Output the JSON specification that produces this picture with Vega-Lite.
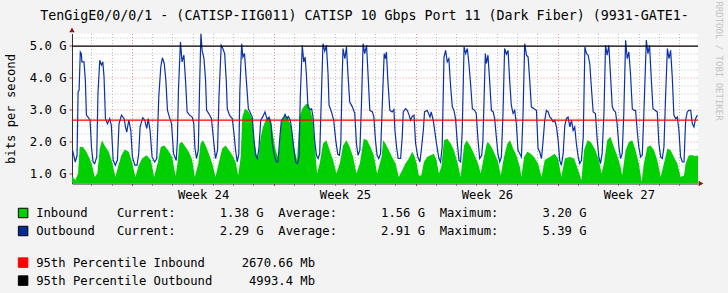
{
  "$schema": "https://vega.github.io/schema/vega-lite/v6.json",
  "width": 626,
  "height": 150,
  "autosize": {"type": "none"},
  "padding": {"left": 72, "top": 33.5, "right": 30, "bottom": 109.5},
  "background": "#F3F3F3",
  "config": {"view": {"fill": "#FFFFFF", "stroke": null}, "font": "DejaVu Sans Mono"},
  "datasets": {
    "inb": [
      {"d":-2.95,"v":0.90},{"d":-2.90,"v":0.89},{"d":-2.79,"v":0.79},{"d":-2.65,"v":1.00},{"d":-2.57,"v":1.83},{"d":-2.41,"v":1.83},{"d":-2.24,"v":1.68},{"d":-2.08,"v":1.47},{"d":-1.96,"v":1.26},{"d":-1.83,"v":0.89},{"d":-1.70,"v":1.00},{"d":-1.58,"v":1.78},{"d":-1.47,"v":2.04},{"d":-1.34,"v":1.88},{"d":-1.14,"v":1.68},{"d":-0.97,"v":1.36},{"d":-0.81,"v":0.89},{"d":-0.68,"v":1.21},{"d":-0.51,"v":1.57},{"d":-0.35,"v":1.75},{"d":-0.15,"v":1.68},{"d":0.01,"v":1.36},{"d":0.18,"v":0.89},{"d":0.34,"v":1.26},{"d":0.51,"v":1.47},{"d":0.72,"v":1.57},{"d":0.94,"v":1.42},{"d":1.10,"v":0.89},{"d":1.27,"v":1.31},{"d":1.43,"v":1.83},{"d":1.60,"v":1.88},{"d":1.79,"v":1.73},{"d":1.99,"v":1.52},{"d":2.16,"v":0.92},{"d":2.25,"v":1.31},{"d":2.35,"v":1.94},{"d":2.48,"v":1.99},{"d":2.65,"v":1.83},{"d":2.81,"v":1.68},{"d":2.98,"v":1.42},{"d":3.11,"v":0.89},{"d":3.28,"v":1.31},{"d":3.39,"v":1.94},{"d":3.51,"v":2.04},{"d":3.64,"v":1.88},{"d":3.80,"v":1.62},{"d":3.97,"v":1.31},{"d":4.13,"v":0.89},{"d":4.30,"v":1.36},{"d":4.46,"v":1.78},{"d":4.63,"v":1.88},{"d":4.79,"v":1.73},{"d":4.96,"v":1.57},{"d":5.12,"v":1.36},{"d":5.25,"v":0.94},{"d":5.37,"v":1.52},{"d":5.45,"v":2.77},{"d":5.58,"v":3.03},{"d":5.70,"v":2.98},{"d":5.81,"v":2.88},{"d":5.94,"v":2.72},{"d":6.03,"v":2.04},{"d":6.14,"v":1.62},{"d":6.24,"v":1.52},{"d":6.36,"v":2.15},{"d":6.47,"v":2.46},{"d":6.60,"v":2.67},{"d":6.73,"v":2.77},{"d":6.87,"v":2.69},{"d":6.98,"v":2.15},{"d":7.10,"v":1.73},{"d":7.23,"v":1.47},{"d":7.38,"v":2.67},{"d":7.54,"v":2.83},{"d":7.71,"v":2.75},{"d":7.87,"v":2.46},{"d":8.03,"v":1.73},{"d":8.15,"v":1.42},{"d":8.28,"v":2.77},{"d":8.41,"v":3.03},{"d":8.58,"v":3.17},{"d":8.71,"v":3.19},{"d":8.81,"v":2.98},{"d":8.91,"v":2.75},{"d":9.02,"v":1.94},{"d":9.14,"v":1.00},{"d":9.27,"v":1.31},{"d":9.43,"v":1.94},{"d":9.60,"v":2.04},{"d":9.76,"v":1.73},{"d":9.93,"v":1.42},{"d":10.09,"v":1.00},{"d":10.26,"v":1.31},{"d":10.42,"v":1.88},{"d":10.59,"v":2.04},{"d":10.75,"v":1.83},{"d":10.92,"v":1.52},{"d":11.08,"v":1.00},{"d":11.25,"v":1.31},{"d":11.44,"v":2.09},{"d":11.61,"v":2.04},{"d":11.77,"v":1.83},{"d":11.94,"v":1.57},{"d":12.10,"v":1.00},{"d":12.32,"v":1.52},{"d":12.40,"v":2.04},{"d":12.51,"v":1.94},{"d":12.68,"v":1.73},{"d":12.84,"v":1.52},{"d":13.01,"v":1.31},{"d":13.17,"v":0.89},{"d":13.34,"v":1.10},{"d":13.50,"v":1.31},{"d":13.67,"v":1.47},{"d":13.83,"v":1.68},{"d":13.95,"v":1.54},{"d":14.05,"v":1.31},{"d":14.16,"v":0.94},{"d":14.28,"v":0.94},{"d":14.41,"v":1.36},{"d":14.57,"v":1.52},{"d":14.74,"v":1.57},{"d":14.90,"v":1.62},{"d":15.03,"v":1.42},{"d":15.15,"v":1.00},{"d":15.27,"v":1.21},{"d":15.40,"v":2.04},{"d":15.56,"v":2.09},{"d":15.73,"v":1.94},{"d":15.89,"v":1.73},{"d":16.06,"v":1.36},{"d":16.22,"v":0.89},{"d":16.39,"v":1.88},{"d":16.52,"v":2.04},{"d":16.68,"v":1.88},{"d":16.88,"v":1.62},{"d":17.08,"v":1.31},{"d":17.21,"v":1.00},{"d":17.37,"v":1.52},{"d":17.51,"v":1.94},{"d":17.57,"v":1.99},{"d":17.74,"v":1.83},{"d":17.90,"v":1.62},{"d":18.07,"v":1.36},{"d":18.20,"v":0.94},{"d":18.36,"v":1.52},{"d":18.53,"v":1.94},{"d":18.66,"v":2.04},{"d":18.81,"v":1.78},{"d":18.97,"v":1.57},{"d":19.14,"v":1.21},{"d":19.22,"v":0.89},{"d":19.35,"v":1.52},{"d":19.51,"v":1.68},{"d":19.68,"v":1.62},{"d":19.84,"v":1.52},{"d":20.04,"v":1.31},{"d":20.21,"v":0.89},{"d":20.37,"v":1.42},{"d":20.62,"v":1.52},{"d":20.86,"v":1.62},{"d":21.03,"v":1.47},{"d":21.19,"v":0.89},{"d":21.36,"v":1.47},{"d":21.61,"v":1.52},{"d":21.82,"v":1.47},{"d":22.02,"v":1.10},{"d":22.18,"v":0.79},{"d":22.31,"v":1.73},{"d":22.48,"v":2.04},{"d":22.64,"v":1.99},{"d":22.87,"v":1.73},{"d":23.04,"v":1.42},{"d":23.17,"v":1.00},{"d":23.29,"v":1.31},{"d":23.45,"v":2.04},{"d":23.61,"v":2.15},{"d":23.78,"v":1.83},{"d":23.94,"v":1.57},{"d":24.11,"v":1.21},{"d":24.19,"v":0.94},{"d":24.36,"v":1.73},{"d":24.52,"v":1.99},{"d":24.69,"v":2.04},{"d":24.85,"v":1.73},{"d":25.01,"v":1.31},{"d":25.15,"v":0.74},{"d":25.26,"v":1.31},{"d":25.43,"v":1.83},{"d":25.59,"v":1.88},{"d":25.76,"v":1.73},{"d":25.92,"v":1.42},{"d":26.09,"v":0.89},{"d":26.25,"v":1.31},{"d":26.42,"v":1.78},{"d":26.58,"v":1.73},{"d":26.74,"v":1.52},{"d":26.91,"v":1.31},{"d":27.07,"v":0.89},{"d":27.24,"v":0.94},{"d":27.32,"v":1.31},{"d":27.48,"v":1.57},{"d":27.65,"v":1.57},{"d":27.81,"v":1.54},{"d":27.93,"v":1.57}
    ],
    "outb": [
      {"d":-2.95,"v":1.65},{"d":-2.90,"v":1.68},{"d":-2.79,"v":1.36},{"d":-2.70,"v":1.57},{"d":-2.65,"v":3.56},{"d":-2.60,"v":3.61},{"d":-2.54,"v":4.81},{"d":-2.49,"v":4.76},{"d":-2.46,"v":4.50},{"d":-2.36,"v":4.50},{"d":-2.29,"v":3.92},{"d":-2.24,"v":2.83},{"d":-2.16,"v":2.77},{"d":-2.06,"v":2.67},{"d":-1.99,"v":1.83},{"d":-1.91,"v":1.36},{"d":-1.83,"v":1.31},{"d":-1.73,"v":1.52},{"d":-1.67,"v":3.50},{"d":-1.58,"v":4.55},{"d":-1.50,"v":4.40},{"d":-1.43,"v":4.50},{"d":-1.37,"v":4.03},{"d":-1.30,"v":2.72},{"d":-1.20,"v":2.56},{"d":-1.09,"v":2.72},{"d":-1.01,"v":2.51},{"d":-0.92,"v":1.42},{"d":-0.81,"v":1.26},{"d":-0.71,"v":1.42},{"d":-0.63,"v":2.56},{"d":-0.51,"v":2.83},{"d":-0.38,"v":2.72},{"d":-0.31,"v":2.46},{"d":-0.25,"v":2.30},{"d":-0.15,"v":2.67},{"d":-0.05,"v":2.35},{"d":0.03,"v":1.52},{"d":0.15,"v":1.26},{"d":0.26,"v":1.26},{"d":0.34,"v":1.62},{"d":0.41,"v":2.46},{"d":0.54,"v":2.75},{"d":0.64,"v":2.67},{"d":0.74,"v":2.41},{"d":0.81,"v":2.72},{"d":0.90,"v":2.35},{"d":1.00,"v":1.52},{"d":1.13,"v":1.36},{"d":1.23,"v":1.47},{"d":1.33,"v":3.40},{"d":1.43,"v":4.34},{"d":1.51,"v":4.63},{"d":1.60,"v":4.45},{"d":1.68,"v":3.92},{"d":1.76,"v":2.98},{"d":1.88,"v":2.72},{"d":1.96,"v":2.56},{"d":2.06,"v":1.62},{"d":2.19,"v":1.41},{"d":2.25,"v":2.04},{"d":2.30,"v":3.61},{"d":2.40,"v":5.12},{"d":2.48,"v":4.50},{"d":2.57,"v":4.71},{"d":2.65,"v":3.92},{"d":2.73,"v":2.93},{"d":2.85,"v":2.83},{"d":2.98,"v":2.77},{"d":3.06,"v":2.56},{"d":3.11,"v":1.83},{"d":3.19,"v":1.47},{"d":3.28,"v":1.73},{"d":3.34,"v":3.61},{"d":3.41,"v":5.39},{"d":3.47,"v":4.86},{"d":3.56,"v":4.60},{"d":3.64,"v":3.92},{"d":3.69,"v":2.98},{"d":3.80,"v":2.88},{"d":3.93,"v":2.72},{"d":4.05,"v":1.94},{"d":4.13,"v":1.47},{"d":4.23,"v":1.73},{"d":4.30,"v":3.40},{"d":4.41,"v":5.02},{"d":4.49,"v":4.92},{"d":4.58,"v":4.76},{"d":4.66,"v":3.92},{"d":4.71,"v":3.03},{"d":4.82,"v":2.83},{"d":4.96,"v":2.72},{"d":5.04,"v":2.25},{"d":5.12,"v":1.73},{"d":5.20,"v":1.36},{"d":5.28,"v":1.62},{"d":5.33,"v":3.61},{"d":5.42,"v":5.07},{"d":5.48,"v":4.65},{"d":5.56,"v":4.76},{"d":5.65,"v":3.92},{"d":5.75,"v":3.03},{"d":5.86,"v":2.88},{"d":5.94,"v":2.77},{"d":6.03,"v":2.04},{"d":6.11,"v":1.57},{"d":6.19,"v":1.47},{"d":6.27,"v":1.78},{"d":6.36,"v":2.67},{"d":6.47,"v":2.79},{"d":6.57,"v":2.93},{"d":6.68,"v":2.69},{"d":6.77,"v":2.77},{"d":6.87,"v":2.51},{"d":6.93,"v":1.94},{"d":7.03,"v":1.57},{"d":7.13,"v":1.36},{"d":7.21,"v":1.36},{"d":7.29,"v":2.04},{"d":7.38,"v":2.67},{"d":7.49,"v":2.75},{"d":7.56,"v":2.86},{"d":7.66,"v":2.72},{"d":7.72,"v":2.79},{"d":7.82,"v":2.67},{"d":7.89,"v":2.35},{"d":7.99,"v":1.78},{"d":8.08,"v":1.36},{"d":8.17,"v":1.31},{"d":8.25,"v":1.52},{"d":8.31,"v":3.40},{"d":8.41,"v":5.02},{"d":8.48,"v":4.50},{"d":8.55,"v":4.65},{"d":8.61,"v":4.13},{"d":8.69,"v":3.09},{"d":8.81,"v":3.00},{"d":8.87,"v":3.03},{"d":8.94,"v":2.77},{"d":9.02,"v":2.04},{"d":9.11,"v":1.57},{"d":9.19,"v":1.47},{"d":9.27,"v":1.62},{"d":9.35,"v":3.40},{"d":9.43,"v":5.07},{"d":9.52,"v":4.84},{"d":9.60,"v":5.02},{"d":9.68,"v":4.13},{"d":9.73,"v":3.14},{"d":9.85,"v":2.93},{"d":9.96,"v":2.67},{"d":10.06,"v":2.04},{"d":10.16,"v":1.60},{"d":10.24,"v":1.57},{"d":10.31,"v":1.94},{"d":10.37,"v":3.92},{"d":10.42,"v":4.92},{"d":10.51,"v":4.60},{"d":10.59,"v":4.97},{"d":10.67,"v":4.03},{"d":10.75,"v":3.24},{"d":10.88,"v":3.09},{"d":11.00,"v":2.88},{"d":11.08,"v":1.94},{"d":11.16,"v":1.57},{"d":11.25,"v":1.73},{"d":11.33,"v":3.19},{"d":11.41,"v":5.07},{"d":11.49,"v":4.76},{"d":11.58,"v":5.02},{"d":11.66,"v":4.03},{"d":11.74,"v":2.98},{"d":11.87,"v":2.93},{"d":11.94,"v":2.77},{"d":12.02,"v":2.04},{"d":12.10,"v":1.57},{"d":12.18,"v":1.47},{"d":12.27,"v":1.62},{"d":12.37,"v":3.40},{"d":12.45,"v":4.76},{"d":12.51,"v":4.60},{"d":12.56,"v":4.81},{"d":12.63,"v":3.92},{"d":12.73,"v":2.98},{"d":12.84,"v":2.93},{"d":12.93,"v":3.00},{"d":12.98,"v":2.35},{"d":13.06,"v":1.83},{"d":13.14,"v":1.47},{"d":13.26,"v":1.47},{"d":13.34,"v":2.15},{"d":13.39,"v":2.93},{"d":13.50,"v":3.03},{"d":13.59,"v":2.98},{"d":13.68,"v":2.83},{"d":13.75,"v":2.67},{"d":13.83,"v":2.79},{"d":13.92,"v":2.83},{"d":14.00,"v":1.94},{"d":14.11,"v":1.52},{"d":14.21,"v":1.36},{"d":14.28,"v":1.73},{"d":14.38,"v":2.35},{"d":14.44,"v":2.93},{"d":14.57,"v":2.98},{"d":14.71,"v":2.77},{"d":14.77,"v":2.93},{"d":14.87,"v":2.67},{"d":14.94,"v":2.35},{"d":15.03,"v":1.94},{"d":15.15,"v":1.47},{"d":15.23,"v":1.36},{"d":15.31,"v":1.83},{"d":15.40,"v":4.65},{"d":15.48,"v":4.86},{"d":15.56,"v":4.50},{"d":15.64,"v":4.60},{"d":15.73,"v":3.71},{"d":15.81,"v":3.09},{"d":15.89,"v":2.98},{"d":15.97,"v":2.72},{"d":16.06,"v":1.94},{"d":16.14,"v":1.41},{"d":16.22,"v":1.36},{"d":16.30,"v":2.35},{"d":16.39,"v":4.97},{"d":16.47,"v":4.76},{"d":16.55,"v":4.92},{"d":16.63,"v":4.45},{"d":16.71,"v":3.82},{"d":16.80,"v":3.03},{"d":16.91,"v":2.98},{"d":16.99,"v":2.88},{"d":17.08,"v":2.04},{"d":17.16,"v":1.47},{"d":17.26,"v":1.57},{"d":17.32,"v":2.04},{"d":17.38,"v":3.40},{"d":17.44,"v":4.76},{"d":17.49,"v":4.45},{"d":17.57,"v":4.71},{"d":17.65,"v":3.92},{"d":17.74,"v":2.98},{"d":17.83,"v":2.93},{"d":17.90,"v":2.72},{"d":17.98,"v":2.15},{"d":18.06,"v":1.62},{"d":18.15,"v":1.36},{"d":18.23,"v":1.52},{"d":18.31,"v":2.88},{"d":18.39,"v":4.92},{"d":18.48,"v":4.74},{"d":18.56,"v":4.86},{"d":18.64,"v":3.92},{"d":18.72,"v":3.14},{"d":18.81,"v":2.88},{"d":18.89,"v":2.98},{"d":18.97,"v":2.56},{"d":19.05,"v":1.73},{"d":19.14,"v":1.62},{"d":19.22,"v":1.52},{"d":19.30,"v":2.88},{"d":19.38,"v":5.07},{"d":19.47,"v":4.71},{"d":19.55,"v":4.65},{"d":19.63,"v":3.92},{"d":19.71,"v":3.09},{"d":19.84,"v":3.03},{"d":19.96,"v":2.98},{"d":20.04,"v":1.78},{"d":20.12,"v":1.68},{"d":20.21,"v":1.47},{"d":20.29,"v":2.04},{"d":20.37,"v":2.67},{"d":20.45,"v":2.98},{"d":20.54,"v":2.93},{"d":20.62,"v":2.77},{"d":20.70,"v":2.72},{"d":20.78,"v":2.62},{"d":20.86,"v":2.67},{"d":20.95,"v":2.46},{"d":21.03,"v":2.04},{"d":21.11,"v":1.41},{"d":21.19,"v":1.26},{"d":21.28,"v":1.62},{"d":21.36,"v":2.51},{"d":21.44,"v":2.72},{"d":21.52,"v":2.77},{"d":21.61,"v":2.46},{"d":21.69,"v":2.67},{"d":21.77,"v":2.35},{"d":21.85,"v":2.46},{"d":21.93,"v":1.94},{"d":22.02,"v":1.52},{"d":22.10,"v":1.31},{"d":22.18,"v":1.41},{"d":22.27,"v":2.15},{"d":22.35,"v":4.97},{"d":22.43,"v":4.76},{"d":22.51,"v":4.71},{"d":22.59,"v":4.45},{"d":22.68,"v":3.61},{"d":22.76,"v":2.93},{"d":22.87,"v":2.88},{"d":22.96,"v":2.04},{"d":23.04,"v":1.52},{"d":23.12,"v":1.31},{"d":23.20,"v":1.62},{"d":23.29,"v":2.88},{"d":23.37,"v":5.02},{"d":23.45,"v":4.71},{"d":23.53,"v":5.02},{"d":23.61,"v":4.13},{"d":23.70,"v":3.09},{"d":23.78,"v":2.98},{"d":23.86,"v":2.93},{"d":23.94,"v":2.56},{"d":24.03,"v":1.83},{"d":24.11,"v":1.47},{"d":24.19,"v":1.62},{"d":24.27,"v":2.88},{"d":24.36,"v":5.18},{"d":24.44,"v":4.60},{"d":24.52,"v":4.81},{"d":24.60,"v":4.13},{"d":24.69,"v":3.03},{"d":24.77,"v":2.98},{"d":24.85,"v":2.98},{"d":24.93,"v":2.35},{"d":25.01,"v":1.83},{"d":25.10,"v":1.52},{"d":25.18,"v":1.57},{"d":25.26,"v":2.88},{"d":25.38,"v":5.18},{"d":25.46,"v":4.76},{"d":25.54,"v":5.02},{"d":25.62,"v":4.03},{"d":25.71,"v":3.03},{"d":25.81,"v":2.98},{"d":25.92,"v":2.93},{"d":26.00,"v":1.94},{"d":26.09,"v":1.52},{"d":26.17,"v":1.47},{"d":26.25,"v":1.83},{"d":26.33,"v":3.40},{"d":26.42,"v":4.92},{"d":26.50,"v":4.60},{"d":26.58,"v":4.86},{"d":26.66,"v":4.03},{"d":26.74,"v":2.83},{"d":26.83,"v":2.72},{"d":26.91,"v":2.77},{"d":26.99,"v":2.35},{"d":27.07,"v":1.52},{"d":27.16,"v":1.36},{"d":27.24,"v":1.36},{"d":27.32,"v":2.67},{"d":27.40,"v":2.93},{"d":27.48,"v":2.98},{"d":27.57,"v":2.98},{"d":27.65,"v":2.56},{"d":27.73,"v":2.46},{"d":27.81,"v":2.72},{"d":27.90,"v":2.83}
    ],
    "pct": [{"p": "p95in", "v": 2.67066}, {"p": "p95out", "v": 4.9934}]
  },
  "layer": [
    {
      "data": {"name": "inb"},
      "transform": [{"calculate": "'in'", "as": "s"}],
      "mark": {"type": "area", "clip": true, "interpolate": "linear"},
      "encoding": {
        "x": {"field": "d", "type": "quantitative",
          "scale": {"domain": [-2.95, 27.93], "nice": false, "zero": false},
          "axis": {"orient": "bottom", "zindex": 0, "values": [-2,-1,0,1,2,3,4,5,6,7,8,9,10,11,12,13,14,15,16,17,18,19,20,21,22,23,24,25,26,27],
            "grid": true, "gridDash": [1, 2], "gridWidth": 1,
            "gridColor": {"condition": {"test": "datum.value % 7 === 0", "value": "#E58C8C"}, "value": "#BDBDBD"},
            "domain": true, "domainColor": "#333333", "domainWidth": 1,
            "ticks": true, "tickSize": 2, "tickColor": {"condition": {"test": "datum.value % 7 === 0", "value": "#C04040"}, "value": "#999999"},
            "labelExpr": "datum.value === 3 ? 'Week 24' : datum.value === 10 ? 'Week 25' : datum.value === 17 ? 'Week 26' : datum.value === 24 ? 'Week 27' : ''",
            "labelOffset": 10.5, "labelPadding": 3, "labelFont": "DejaVu Sans Mono", "labelFontSize": 12.2, "labelColor": "#000000",
            "labelOverlap": false, "labelFlush": false, "labelBound": false, "title": null}},
        "y": {"field": "v", "type": "quantitative",
          "scale": {"domain": [0.686, 5.39], "nice": false, "zero": false},
          "axis": {"orient": "left", "zindex": 0, "values": [0.75,1,1.25,1.5,1.75,2,2.25,2.5,2.75,3,3.25,3.5,3.75,4,4.25,4.5,4.75,5,5.25],
            "grid": true, "gridDash": [1, 2], "gridWidth": 1,
            "gridColor": {"condition": {"test": "abs(datum.value - round(datum.value)) < 0.001", "value": "#E58C8C"}, "value": "#BDBDBD"},
            "domain": true, "domainColor": "#333333", "domainWidth": 1,
            "ticks": true, "tickSize": 3, "tickColor": {"condition": {"test": "abs(datum.value - round(datum.value)) < 0.001", "value": "#C04040"}, "value": "transparent"},
            "labelExpr": "abs(datum.value - round(datum.value)) < 0.001 ? format(datum.value, '.1f') + ' G' : ''",
            "labelPadding": 3, "labelFont": "DejaVu Sans Mono", "labelFontSize": 12.2, "labelColor": "#000000", "labelOverlap": false, "labelBound": false,
            "title": "bits per second", "titleFont": "DejaVu Sans Mono", "titleFontSize": 12.2, "titleFontWeight": "normal", "titleColor": "#000000",
            "titleAngle": -90, "titleX": -62, "titleY": 75, "titleAlign": "center", "titleBaseline": "middle"}},
        "y2": {"datum": 0.686},
        "fill": {"field": "s", "type": "nominal",
          "scale": {"domain": ["in", "out"], "range": ["#00CF00", "#002A97"]},
          "legend": {"orient": "none", "legendX": -55, "legendY": 173.4, "title": null, "padding": 0,
            "symbolType": "square", "symbolSize": 90, "symbolStrokeColor": "#000000", "symbolStrokeWidth": 1, "symbolOpacity": 1,
            "labelFont": "DejaVu Sans Mono", "labelFontSize": 12.2, "labelColor": "#000000", "labelLimit": 700, "labelOffset": 7, "rowPadding": 4,
            "labelExpr": "datum.value === 'in' ? 'Inbound\u00a0\u00a0\u00a0\u00a0Current:\u00a0\u00a0\u00a0\u00a0\u00a0\u00a01.38\u00a0G\u00a0\u00a0Average:\u00a0\u00a0\u00a0\u00a0\u00a0\u00a01.56\u00a0G\u00a0\u00a0Maximum:\u00a0\u00a0\u00a0\u00a0\u00a0\u00a03.20\u00a0G' : 'Outbound\u00a0\u00a0\u00a0Current:\u00a0\u00a0\u00a0\u00a0\u00a0\u00a02.29\u00a0G\u00a0\u00a0Average:\u00a0\u00a0\u00a0\u00a0\u00a0\u00a02.91\u00a0G\u00a0\u00a0Maximum:\u00a0\u00a0\u00a0\u00a0\u00a0\u00a05.39\u00a0G'",
            "encode": {"symbols": {"update": {"stroke": {"value": "#000000"}, "strokeWidth": {"value": 1}, "opacity": {"value": 1}}}}}}
      }
    },
    {
      "data": {"name": "outb"},
      "mark": {"type": "line", "clip": true, "color": "#0A32A8", "strokeWidth": 1.2, "interpolate": "linear"},
      "encoding": {
        "x": {"field": "d", "type": "quantitative",
          "axis": {"orient": "top", "grid": false, "domain": false, "ticks": false, "labels": false,
            "title": "TenGigE0/0/0/1 - (CATISP-IIG011) CATISP 10 Gbps Port 11 (Dark Fiber) (9931-GATE1-",
            "titleFont": "DejaVu Sans Mono", "titleFontSize": 13.3, "titleFontWeight": "normal", "titleColor": "#000000",
            "titleX": 292, "titleY": -14, "titleAlign": "center", "titleBaseline": "alphabetic"}},
        "y": {"field": "v", "type": "quantitative",
          "axis": {"orient": "right", "grid": false, "domain": false, "ticks": false, "labels": false,
            "title": "RRDTOOL / TOBI OETIKER", "titleFont": "DejaVu Sans Mono", "titleFontSize": 9, "titleFontWeight": "normal", "titleColor": "#C4C4C4",
            "titleAngle": 90, "titleX": 20, "titleY": 27, "titleAlign": "center", "titleBaseline": "middle"}}
      }
    },
    {
      "data": {"name": "pct"},
      "mark": {"type": "rule", "strokeWidth": 1.2},
      "encoding": {
        "y": {"field": "v", "type": "quantitative", "axis": null},
        "color": {"field": "p", "type": "nominal",
          "scale": {"domain": ["p95in", "p95out"], "range": ["#FF0000", "#000000"]},
          "legend": {"orient": "none", "legendX": -55, "legendY": 223, "title": null, "padding": 0,
            "symbolType": "square", "symbolSize": 90, "symbolStrokeColor": "#000000", "symbolStrokeWidth": 1,
            "labelFont": "DejaVu Sans Mono", "labelFontSize": 12.2, "labelColor": "#000000", "labelLimit": 700, "labelOffset": 7, "rowPadding": 4,
            "labelExpr": "datum.value === 'p95in' ? '95th\u00a0Percentile\u00a0Inbound\u00a0\u00a0\u00a0\u00a0\u00a02670.66\u00a0Mb' : '95th\u00a0Percentile\u00a0Outbound\u00a0\u00a0\u00a0\u00a0\u00a04993.4\u00a0Mb'",
            "encode": {"symbols": {"update": {"fill": {"scale": "color", "field": "value"}, "stroke": {"value": "#000000"}, "strokeWidth": {"value": 1}, "opacity": {"value": 1}}}}}
        }
      }
    },
    {
      "data": {"values": [{}]},
      "mark": {"type": "point", "shape": "triangle-up", "filled": true, "size": 30, "color": "#8B1A1A", "opacity": 1},
      "encoding": {
        "x": {"datum": -2.95, "type": "quantitative", "axis": null},
        "y": {"datum": 5.5, "type": "quantitative", "axis": null}
      }
    },
    {
      "data": {"values": [{}]},
      "mark": {"type": "point", "shape": "triangle-right", "filled": true, "size": 30, "color": "#8B1A1A", "opacity": 1},
      "encoding": {
        "x": {"datum": 28.08, "type": "quantitative", "axis": null},
        "y": {"datum": 0.686, "type": "quantitative", "axis": null}
      }
    }
  ],
  "resolve": {"axis": {"x": "independent", "y": "independent"}}
}
